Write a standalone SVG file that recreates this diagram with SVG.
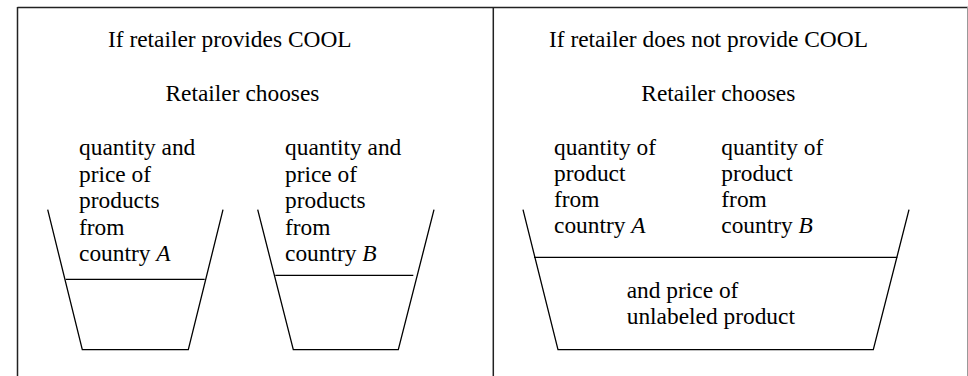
<svg xmlns="http://www.w3.org/2000/svg" width="968" height="376" viewBox="0 0 968 376">
<style>
text{font-family:"Liberation Serif",Tinos,"Times New Roman","DejaVu Serif",serif;font-size:23.4px;fill:#000}
.i{font-style:italic}
.frame{stroke:#222;stroke-width:1.5;fill:none}
.bucket{stroke:#000;stroke-width:1.3;fill:none}
</style>
<rect width="968" height="376" fill="#fff"/>
<g id="frame">
<line class="frame" x1="17.5" y1="7.5" x2="968" y2="7.5"/>
<line class="frame" x1="17.5" y1="7" x2="17.5" y2="376"/>
<line class="frame" x1="493.3" y1="7" x2="493.3" y2="376"/>
<line x1="967.5" y1="7" x2="967.5" y2="376" stroke="#999" stroke-width="1"/>
</g>
<g id="left-panel">
<text x="108" y="47">If retailer provides COOL</text>
<text x="165.5" y="101">Retailer chooses</text>
<g id="bucket-a">
<polyline class="bucket" points="47.7,209.7 82.3,349.7 188.3,349.7 223,209.7"/>
<line class="bucket" x1="65.7" y1="279.3" x2="204.7" y2="279.3"/>
<text x="79" y="155">quantity and</text>
<text x="79" y="181.5">price of</text>
<text x="79" y="208">products</text>
<text x="79" y="234.5">from</text>
<text x="79" y="261">country <tspan class="i">A</tspan></text>
</g>
<g id="bucket-b">
<polyline class="bucket" points="257.7,209.7 293.3,349.7 398.3,349.7 434,209.7"/>
<line class="bucket" x1="275.3" y1="275.3" x2="413.3" y2="275.3"/>
<text x="285" y="155">quantity and</text>
<text x="285" y="181.5">price of</text>
<text x="285" y="208">products</text>
<text x="285" y="234.5">from</text>
<text x="285" y="261">country <tspan class="i">B</tspan></text>
</g>
</g>
<g id="right-panel">
<text x="549" y="47">If retailer does not provide COOL</text>
<text x="641.3" y="101">Retailer chooses</text>
<g id="bucket-ab">
<polyline class="bucket" points="523,209.7 558,349.7 873.3,349.7 909,209.7"/>
<line class="bucket" x1="534" y1="257.3" x2="897.3" y2="257.3"/>
<text x="554" y="155">quantity of</text>
<text x="554" y="181">product</text>
<text x="554" y="206.5">from</text>
<text x="554" y="232.5">country <tspan class="i">A</tspan></text>
<text x="721.3" y="155">quantity of</text>
<text x="721.3" y="181">product</text>
<text x="721.3" y="206.5">from</text>
<text x="721.3" y="232.5">country <tspan class="i">B</tspan></text>
<text x="626.7" y="298">and price of</text>
<text x="626.7" y="324">unlabeled product</text>
</g>
</g>
</svg>
